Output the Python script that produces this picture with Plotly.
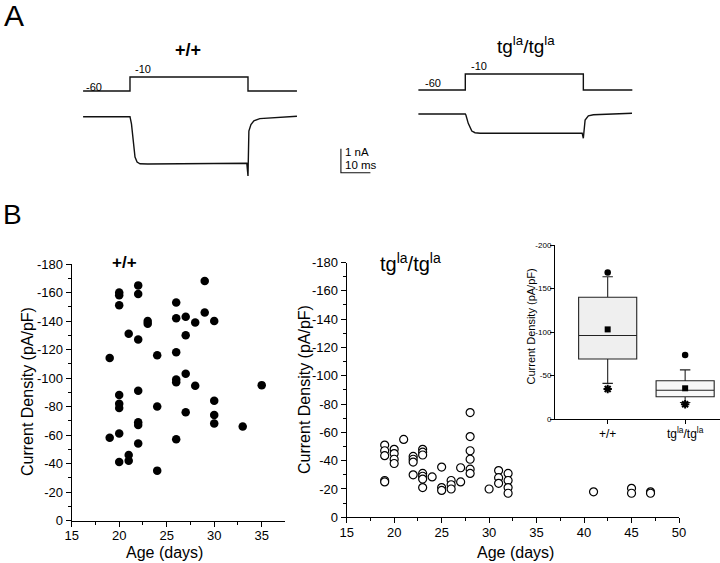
import plotly.graph_objects as go

W, H = 720, 563
FONT = "Arial, Liberation Sans, Helvetica, sans-serif"

# ---------------- Panel A: voltage protocol and current traces ----------------
step_t = [-15.9, 0, 0, 40, 40, 56.6]          # ms
step_v = [-60, -60, -10, -10, -60, -60]       # mV

wt_t = [-15.9, 0, 0.5, 1.0, 1.7, 2.4, 3.4, 6, 20, 39.6, 40.0, 40.3, 41, 42, 44, 50, 56.6]
wt_i = [0, 0, -0.3, -0.97, -1.68, -1.89, -1.96, -1.97, -1.96, -1.94, -2.47, -0.6, -0.33, -0.17, -0.08, -0.03, 0.02]

tg_t = [-15.9, 0, 0.2, 1.0, 2.2, 3.3, 5, 20, 39.6, 40.0, 40.6, 41.7, 43.4, 50, 56.5]
tg_i = [0, 0, -0.04, -0.39, -0.71, -0.78, -0.8, -0.8, -0.8, -1.01, -0.25, -0.08, -0.03, 0.0, 0.03]

bar_t = [71.5, 71.5, 81.5]       # scale bar: 10 ms
bar_i = [-1.333, -2.333, -2.333]  # scale bar: 1 nA

# ---------------- Panel B: current density vs age ----------------
wt_age = [19, 19,
          20, 20, 20, 20, 20, 20, 20, 20,
          21, 21, 21,
          22, 22, 22, 22, 22, 22, 22,
          23, 23,
          24, 24, 24,
          26, 26, 26, 26, 26, 26,
          27, 27, 27, 27,
          28, 28,
          29, 29,
          30, 30, 30, 30,
          33, 35]
wt_cd = [-114, -58,
         -160, -158, -151, -88, -82, -79, -61, -41,
         -131, -46, -42,
         -165, -159, -127, -91, -69, -67, -54,
         -140, -138,
         -116, -80, -35,
         -153, -142, -118, -99, -97, -57,
         -143, -130, -103, -76,
         -139, -94.5,
         -168, -146,
         -140, -84, -74, -68,
         -66, -95]

tg_age = [19, 19, 19, 19, 19,
          20, 20, 20, 20,
          21,
          22, 22, 22, 22,
          23, 23, 23, 23, 23, 23, 23,
          24,
          25, 25, 25,
          26, 26, 26,
          27, 27,
          28, 28, 28, 28, 28, 28,
          30,
          31, 31, 31,
          32, 32, 32, 32,
          41,
          45, 45,
          47, 47]
tg_cd = [-51, -47, -43.5, -26, -25,
         -48, -45, -41, -38,
         -55,
         -43, -41, -39, -30,
         -48, -46, -44, -31, -29, -27, -21,
         -28.5,
         -35.5, -21, -19,
         -26, -23, -20,
         -35, -25,
         -74, -57, -47, -41, -34, -31,
         -20,
         -33, -28, -24,
         -31, -26, -21, -17,
         -18,
         -20.5, -17,
         -18, -17]

cd_ticks = [0, -20, -40, -60, -80, -100, -120, -140, -160, -180]
cd_ticktext = ["0", "-20", "-40", "-60", "-80", "-100", "-120", "-140", "-160", "-180"]

# ---------------- Inset: box summary ----------------
box_pos = [0, 1]
box_labels = ["+/+", "tg<sup>la</sup>/tg<sup>la</sup>"]
box_q_hi = [-140, -44]      # 75th percentile (more negative)
box_med = [-96, -33]
box_q_lo = [-69, -25.6]     # 25th percentile
box_wh_hi = [-163.5, -56.5]
box_wh_lo = [-41, -19]
box_mean = [-103, -35.3]
box_max = [-168.5, -73.6]
box_min = [-34.5, -17]
box_fill = ["#efefef", "#f8f8f8"]
inset_ticks = [0, -50, -100, -150, -200]
inset_ticktext = ["0", "-50", "-100", "-150", "-200"]


def px(x):
    return x / W


def py(y):
    return 1 - y / H


fig = go.Figure()
LC = "#111111"

# Panel A traces
fig.add_trace(go.Scatter(x=step_t, y=step_v, xaxis="x4", yaxis="y4", mode="lines",
                         line=dict(color=LC, width=1.4), showlegend=False))
fig.add_trace(go.Scatter(x=wt_t, y=wt_i, xaxis="x4", yaxis="y5", mode="lines",
                         line=dict(color=LC, width=1.4), showlegend=False))
fig.add_trace(go.Scatter(x=bar_t, y=bar_i, xaxis="x4", yaxis="y5", mode="lines",
                         line=dict(color=LC, width=1.1), showlegend=False))
fig.add_trace(go.Scatter(x=step_t, y=step_v, xaxis="x6", yaxis="y6", mode="lines",
                         line=dict(color=LC, width=1.4), showlegend=False))
fig.add_trace(go.Scatter(x=tg_t, y=tg_i, xaxis="x6", yaxis="y7", mode="lines",
                         line=dict(color=LC, width=1.4), showlegend=False))

# Panel B scatters
fig.add_trace(go.Scatter(x=wt_age, y=wt_cd, xaxis="x", yaxis="y", mode="markers",
                         marker=dict(size=8.5, color="black", symbol="circle"),
                         showlegend=False, cliponaxis=False))
fig.add_trace(go.Scatter(x=tg_age, y=tg_cd, xaxis="x2", yaxis="y2", mode="markers",
                         marker=dict(size=8, color="white", symbol="circle",
                                     line=dict(color="black", width=1.2)),
                         showlegend=False, cliponaxis=False))

# Inset boxes
for i in range(2):
    fig.add_trace(go.Box(x=[box_pos[i]], q1=[box_q_hi[i]], median=[box_med[i]], q3=[box_q_lo[i]],
                         lowerfence=[box_wh_hi[i]], upperfence=[box_wh_lo[i]],
                         xaxis="x3", yaxis="y3", width=0.75, whiskerwidth=0.18,
                         fillcolor=box_fill[i], line=dict(color="#222222", width=1.1),
                         boxpoints=False, showlegend=False, hoverinfo="skip"))
fig.add_trace(go.Scatter(x=box_pos, y=box_mean, xaxis="x3", yaxis="y3", mode="markers",
                         marker=dict(symbol="square", size=6, color="black"), showlegend=False))
fig.add_trace(go.Scatter(x=box_pos, y=box_max, xaxis="x3", yaxis="y3", mode="markers",
                         marker=dict(symbol="circle", size=6.5, color="black"), showlegend=False))
fig.add_trace(go.Scatter(x=box_pos, y=box_min, xaxis="x3", yaxis="y3", mode="markers",
                         marker=dict(symbol="asterisk", size=7, color="black",
                                     line=dict(color="black", width=2)), showlegend=False))

hidden = dict(visible=False, fixedrange=True, automargin=False)
common = dict(showline=True, linecolor="black", linewidth=1.2, ticks="outside", ticklen=5,
              tickwidth=1.1, tickcolor="black", showgrid=False, zeroline=False, automargin=False,
              tickfont=dict(family=FONT, size=13, color="black"))
main_x = dict(common, tickmode="linear", dtick=5, tick0=15, ticklabelstandoff=-2,
              minor=dict(ticks="outside", ticklen=3, dtick=2.5, tick0=15, tickcolor="black", tickwidth=1))
main_y = dict(common, tickmode="array", tickvals=cd_ticks, ticktext=cd_ticktext, ticklabelstandoff=0,
              minor=dict(ticks="outside", ticklen=3, dtick=10, tick0=0, tickcolor="black", tickwidth=1))

fig.update_layout(
    template="none",
    width=W, height=H, margin=dict(l=0, r=0, t=0, b=0, pad=0), autosize=False,
    paper_bgcolor="white", plot_bgcolor="rgba(0,0,0,0)",
    font=dict(family=FONT, color="black"), showlegend=False,
    xaxis=dict(main_x, domain=[px(71.7), px(285)], range=[15, 37.45], anchor="y"),
    yaxis=dict(main_y, domain=[py(520.5), py(264)], range=[0, -180], anchor="x"),
    xaxis2=dict(main_x, domain=[px(346.7), px(679)], range=[15, 50], anchor="y2"),
    yaxis2=dict(main_y, domain=[py(517.3), py(262.5)], range=[0, -180], anchor="x2"),
    xaxis3=dict(domain=[px(555), px(720)], range=[-0.68, 1.45], anchor="y3", automargin=False,
                showline=True, linecolor="black", linewidth=1.1, ticks="outside", ticklen=4,
                tickcolor="black", showgrid=False, zeroline=False,
                tickmode="array", tickvals=box_pos, ticktext=box_labels,
                tickfont=dict(family=FONT, size=12, color="black")),
    yaxis3=dict(domain=[py(419), py(245)], range=[0, -200], anchor="x3", automargin=False,
                showline=True, linecolor="black", linewidth=1.1, ticks="outside", ticklen=4,
                tickcolor="black", showgrid=False, zeroline=False, ticklabelstandoff=-3,
                tickmode="array", tickvals=inset_ticks, ticktext=inset_ticktext,
                tickfont=dict(family=FONT, size=8, color="black")),
    xaxis4=dict(hidden, domain=[px(83), px(380)], range=[-15.93, 84.75], anchor="y4"),
    yaxis4=dict(hidden, domain=[py(100), py(60)], range=[-92.1, 50.7], anchor="x4"),
    yaxis5=dict(hidden, domain=[py(185), py(100)], range=[-2.846, 0.696], anchor="x4"),
    xaxis6=dict(hidden, domain=[px(418), px(640)], range=[-16.03, 59.2], anchor="y6"),
    yaxis6=dict(hidden, domain=[py(100), py(60)], range=[-91.25, 33.75], anchor="x6"),
    yaxis7=dict(hidden, domain=[py(185), py(100)], range=[-2.958, 0.583], anchor="x6"),
)


def ann(text, x, y, size, bold=False, angle=0, xanchor="center"):
    fig.add_annotation(text=f"<b>{text}</b>" if bold else text, x=px(x), y=py(y),
                       xref="paper", yref="paper", showarrow=False, textangle=angle,
                       xanchor=xanchor, yanchor="middle", borderpad=0,
                       font=dict(family=FONT, size=size, color="black"))


ann("A", 13.5, 15, 30)
ann("B", 12, 215, 28)
ann("+/+", 188, 50, 18, bold=True)
ann("tg<sup>la</sup>/tg<sup>la</sup>", 526, 45, 19)
ann("-60", 94, 86.5, 11)
ann("-10", 143, 69.5, 11)
ann("-60", 432.5, 83, 11)
ann("-10", 478.5, 66.5, 11)
ann("1 nA", 344, 152, 11.5, xanchor="left")
ann("10 ms", 344, 165, 11.5, xanchor="left")
ann("+/+", 124, 262, 17, bold=True)
ann("tg<sup>la</sup>/tg<sup>la</sup>", 410, 262, 20)
ann("Current Density (pA/pF)", 27, 392, 16, angle=-90)
ann("Current Density (pA/pF)", 304, 390, 16, angle=-90)
ann("Age (days)", 164, 552, 16)
ann("Age (days)", 515, 552, 16)
ann("Current Density (pA/pF)", 530.5, 327, 11, angle=-90)

fig.write_html("out.html", config={"displayModeBar": False},
               post_script="document.body.style.margin='0';document.body.style.overflow='hidden';")
